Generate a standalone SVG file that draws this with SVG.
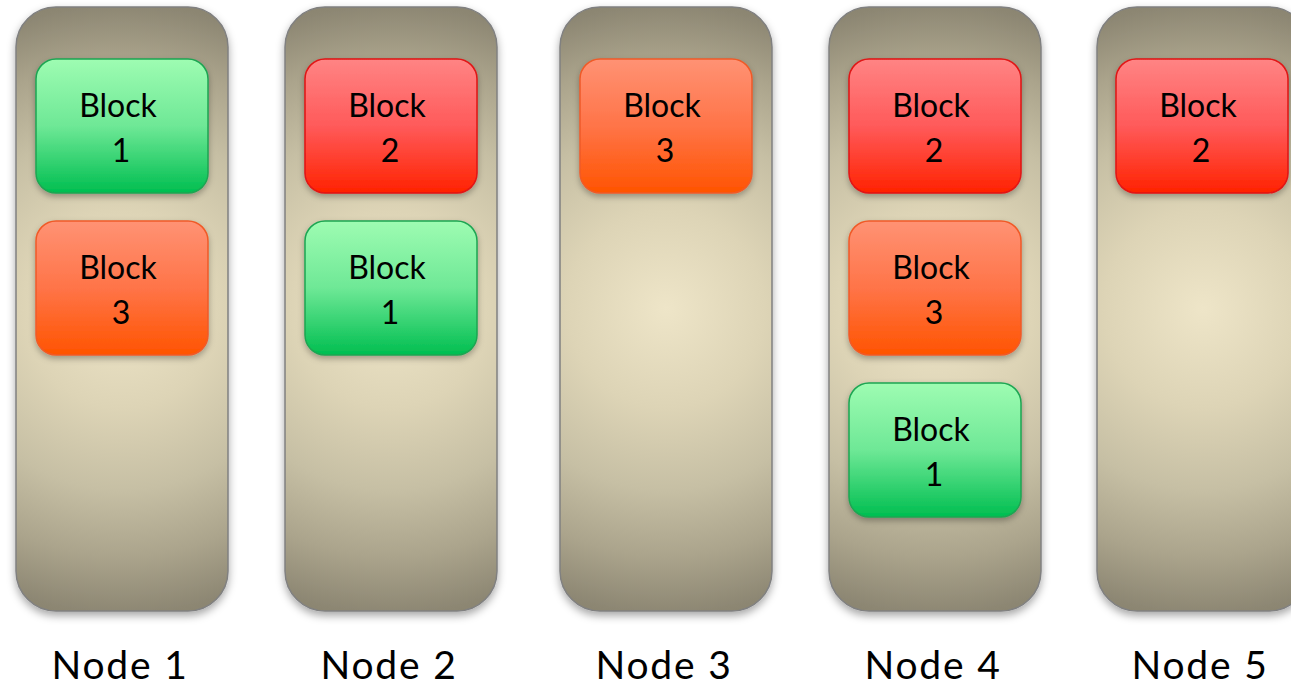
<svg xmlns="http://www.w3.org/2000/svg" width="1291" height="688" viewBox="0 0 1291 688">
  <defs>
    <!-- circular glow centred in each column (bbox 212 x 604) -->
    <radialGradient id="colR" cx="0.5" cy="0.5" r="0.546" gradientTransform="translate(0.5 0.5) scale(2.849 1) translate(-0.5 -0.5)">
      <stop offset="0" stop-color="#EEE5C8"/>
      <stop offset="0.3" stop-color="#DDD4B6"/>
      <stop offset="0.55" stop-color="#C6BFA4"/>
      <stop offset="0.75" stop-color="#ABA48C"/>
      <stop offset="0.92" stop-color="#8D8773"/>
      <stop offset="1" stop-color="#857F6B"/>
    </radialGradient>
    <linearGradient id="green" x1="0" y1="0" x2="0" y2="1">
      <stop offset="0" stop-color="#9EFCB2"/>
      <stop offset="0.5" stop-color="#6EE896"/>
      <stop offset="1" stop-color="#00BE50"/>
    </linearGradient>
    <linearGradient id="red" x1="0" y1="0" x2="0" y2="1">
      <stop offset="0" stop-color="#FF8484"/>
      <stop offset="0.5" stop-color="#FF5A5A"/>
      <stop offset="1" stop-color="#FF2200"/>
    </linearGradient>
    <linearGradient id="orange" x1="0" y1="0" x2="0" y2="1">
      <stop offset="0" stop-color="#FF9274"/>
      <stop offset="0.5" stop-color="#FF7448"/>
      <stop offset="1" stop-color="#FF5400"/>
    </linearGradient>
    <filter id="shadow" x="-20%" y="-10%" width="140%" height="130%">
      <feDropShadow dx="0" dy="4" stdDeviation="4" flood-color="#000" flood-opacity="0.35"/>
    </filter>
    <filter id="bshadow" x="-20%" y="-20%" width="140%" height="150%">
      <feDropShadow dx="0" dy="3" stdDeviation="3" flood-color="#000" flood-opacity="0.3"/>
    </filter>
  </defs>
  <style>
    .col { fill: url(#colR); stroke: #808080; stroke-width: 1.5; filter: url(#shadow); }
    .blk { stroke-width: 1.5; filter: url(#bshadow); }
    .g { fill: url(#green); stroke: #1DA552; }
    .r { fill: url(#red); stroke: #E01414; }
    .o { fill: url(#orange); stroke: #F05A28; }
    .bt { font-family: Lato, "Open Sans", "Liberation Sans", sans-serif; font-size: 32px; fill: #000; text-anchor: middle; }
    .nl { font-family: Lato, "Open Sans", "Liberation Sans", sans-serif; font-size: 39px; fill: #000; text-anchor: middle; letter-spacing: 1.8px; }
  </style>

  <!-- Node 1 -->
  <g id="node1">
    <rect class="col" x="16" y="7" width="212" height="604" rx="40"/>
    <g id="node1-block1">
      <rect class="blk g" x="36" y="59" width="172" height="134" rx="20"/>
      <text class="bt" x="118" y="117">Block</text>
      <text class="bt" x="121" y="162">1</text>
    </g>
    <g id="node1-block3">
      <rect class="blk o" x="36" y="221" width="172" height="134" rx="20"/>
      <text class="bt" x="118" y="279">Block</text>
      <text class="bt" x="121" y="324">3</text>
    </g>
    <text class="nl" x="120" y="679">Node 1</text>
  </g>

  <!-- Node 2 -->
  <g id="node2">
    <rect class="col" x="285" y="7" width="212" height="604" rx="40"/>
    <g id="node2-block2">
      <rect class="blk r" x="305" y="59" width="172" height="134" rx="20"/>
      <text class="bt" x="387" y="117">Block</text>
      <text class="bt" x="390" y="162">2</text>
    </g>
    <g id="node2-block1">
      <rect class="blk g" x="305" y="221" width="172" height="134" rx="20"/>
      <text class="bt" x="387" y="279">Block</text>
      <text class="bt" x="390" y="324">1</text>
    </g>
    <text class="nl" x="389" y="679">Node 2</text>
  </g>

  <!-- Node 3 -->
  <g id="node3">
    <rect class="col" x="560" y="7" width="212" height="604" rx="40"/>
    <g id="node3-block3">
      <rect class="blk o" x="580" y="59" width="172" height="134" rx="20"/>
      <text class="bt" x="662" y="117">Block</text>
      <text class="bt" x="665" y="162">3</text>
    </g>
    <text class="nl" x="664" y="679">Node 3</text>
  </g>

  <!-- Node 4 -->
  <g id="node4">
    <rect class="col" x="829" y="7" width="212" height="604" rx="40"/>
    <g id="node4-block2">
      <rect class="blk r" x="849" y="59" width="172" height="134" rx="20"/>
      <text class="bt" x="931" y="117">Block</text>
      <text class="bt" x="934" y="162">2</text>
    </g>
    <g id="node4-block3">
      <rect class="blk o" x="849" y="221" width="172" height="134" rx="20"/>
      <text class="bt" x="931" y="279">Block</text>
      <text class="bt" x="934" y="324">3</text>
    </g>
    <g id="node4-block1">
      <rect class="blk g" x="849" y="383" width="172" height="134" rx="20"/>
      <text class="bt" x="931" y="441">Block</text>
      <text class="bt" x="934" y="486">1</text>
    </g>
    <text class="nl" x="933" y="679">Node 4</text>
  </g>

  <!-- Node 5 -->
  <g id="node5">
    <rect class="col" x="1097" y="7" width="212" height="604" rx="40"/>
    <g id="node5-block2">
      <rect class="blk r" x="1116" y="59" width="172" height="134" rx="20"/>
      <text class="bt" x="1198" y="117">Block</text>
      <text class="bt" x="1201" y="162">2</text>
    </g>
    <text class="nl" x="1200" y="679">Node 5</text>
  </g>

  <g id="connectors"/>
</svg>
